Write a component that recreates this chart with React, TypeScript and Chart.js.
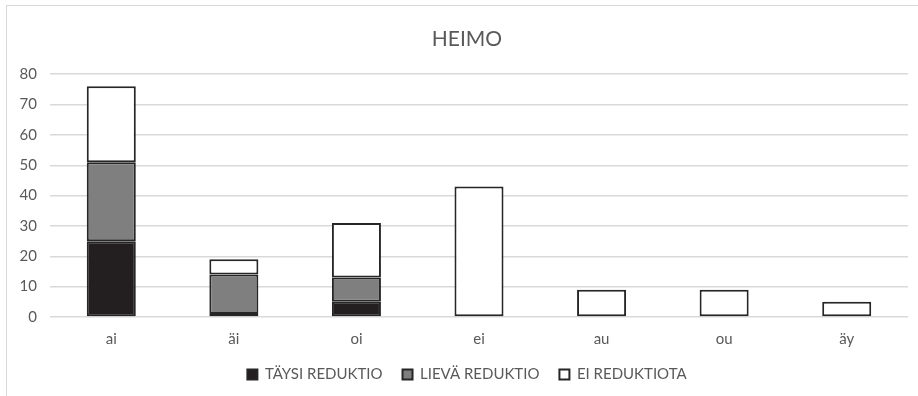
import React, { useEffect, useRef } from "react";
import { Chart, registerables } from "chart.js";

Chart.register(...registerables);

const categories = ["ai", "äi", "oi", "ei", "au", "ou", "äy"];
const taysiReduktio = [25, 1, 5, null, null, null, null];
const lievaReduktio = [26, 13, 8, null, null, null, null];
const eiReduktiota = [25, 5, 18, 43, 9, 9, 5];
const yTicks = [0, 10, 20, 30, 40, 50, 60, 70, 80];

const FONT = "Lato, 'Open Sans', sans-serif";
const TEXT = "#595959";
const EDGE = "#262626";

// The chart frame runs a little past the right edge of the view, so the
// canvas is wider than the visible box and a blank right gutter keeps the
// title and legend centred on the whole frame.
const CANVAS_W = 934;
const CANVAS_H = 396;

export default function App() {
  const ref = useRef<HTMLCanvasElement | null>(null);

  useEffect(() => {
    if (!ref.current) return;
    const chart = new Chart(ref.current, {
      type: "bar",
      data: {
        labels: categories,
        datasets: [
          {
            label: "TÄYSI REDUKTIO",
            data: taysiReduktio,
            backgroundColor: "#231f20",
            borderColor: EDGE,
            borderWidth: 2,
            borderSkipped: false,
          },
          {
            label: "LIEVÄ REDUKTIO",
            data: lievaReduktio,
            backgroundColor: "#7f7f7f",
            borderColor: EDGE,
            borderWidth: 2,
            borderSkipped: false,
          },
          {
            label: "EI REDUKTIOTA",
            data: eiReduktiota,
            backgroundColor: "#ffffff",
            borderColor: EDGE,
            borderWidth: 2,
            borderSkipped: false,
          },
        ],
      },
      options: {
        responsive: false,
        animation: false,
        layout: { padding: { left: 0, right: 0, top: 0, bottom: 4 } },
        datasets: { bar: { categoryPercentage: 1, barPercentage: 0.4 } },
        scales: {
          x: {
            stacked: true,
            grid: { display: false, drawTicks: false },
            border: { display: false },
            ticks: { color: TEXT, font: { family: FONT, size: 15 }, padding: 13 },
            afterFit: (s: any) => {
              s.height = 30;
            },
          },
          y: {
            stacked: true,
            min: 0,
            max: 80,
            afterBuildTicks: (s: any) => {
              s.ticks = yTicks.map((v) => ({ value: v }));
            },
            grid: { color: "#d9d9d9", lineWidth: 1.5, drawTicks: false },
            border: { display: false },
            ticks: { color: TEXT, font: { family: FONT, size: 15 }, padding: 13 },
            afterFit: (s: any) => {
              s.width = 50;
            },
          },
          gutter: {
            type: "linear",
            position: "right",
            display: true,
            grid: { display: false, drawTicks: false },
            border: { display: false },
            ticks: { display: false },
            afterFit: (s: any) => {
              s.width = 26;
            },
          },
        },
        plugins: {
          title: {
            display: true,
            text: "HEIMO",
            color: TEXT,
            font: { family: FONT, size: 21, weight: "normal" },
            padding: { top: 27, bottom: 22 },
          },
          legend: {
            position: "bottom",
            labels: {
              color: TEXT,
              font: { family: FONT, size: 15 },
              boxWidth: 10,
              boxHeight: 10,
              padding: 20,
            },
          },
          tooltip: { enabled: false },
        },
      },
    });
    return () => chart.destroy();
  }, []);

  return (
    <div style={{ position: "fixed", left: 0, top: 0, width: 918, height: 396, background: "#fff", overflow: "hidden" }}>
      <div
        style={{
          position: "absolute",
          left: 6,
          top: 5,
          width: 930,
          height: 420,
          border: "1px solid #d9d9d9",
        }}
      />
      <canvas
        ref={ref}
        width={CANVAS_W}
        height={CANVAS_H}
        style={{ position: "absolute", left: 0, top: 0 }}
      />
    </div>
  );
}
